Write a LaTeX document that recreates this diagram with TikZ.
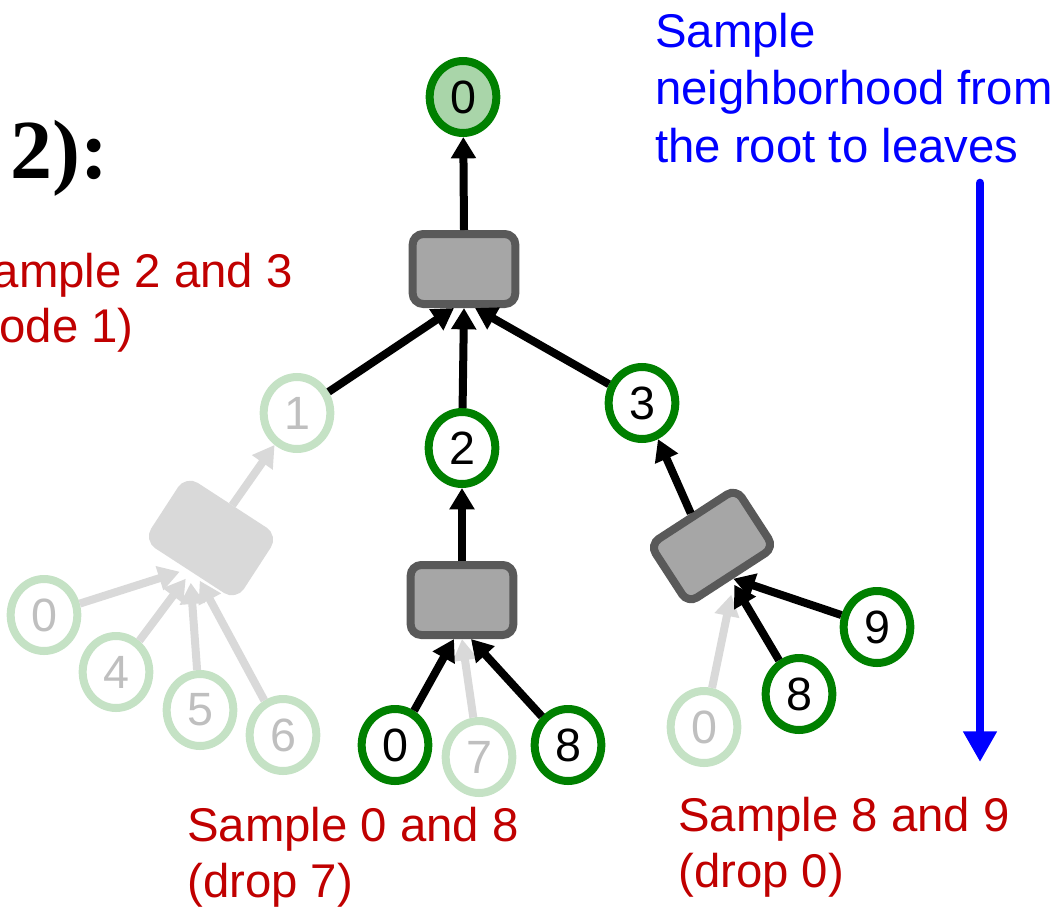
\documentclass[tikz,border=0pt]{standalone}
\usepackage{fontspec}
\setmainfont{Liberation Sans}
\newfontfamily\titlefont{Liberation Serif}
\usetikzlibrary{shapes.geometric,arrows.meta,calc}
\definecolor{nodegreen}{HTML}{008000}
\definecolor{rootfill}{HTML}{A9D5A9}
\definecolor{fadegreen}{HTML}{C5E2C5}
\definecolor{fadetext}{HTML}{BFBFBF}
\definecolor{aggfill}{HTML}{A6A6A6}
\definecolor{aggdraw}{HTML}{595959}
\definecolor{fadegrey}{HTML}{D9D9D9}
\definecolor{labelred}{HTML}{C00000}
\definecolor{flowblue}{HTML}{0000FF}
\begin{document}
\begin{tikzpicture}[x=0.75pt,y=-0.75pt,
  vert/.style={ellipse,draw=nodegreen,line width=6pt,fill=white,
    minimum width=50pt,minimum height=54pt,inner sep=0pt,
    font=\fontsize{35}{42}\selectfont},
  fadevert/.style={vert,draw=fadegreen,text=fadetext},
  rootvert/.style={vert,fill=rootfill},
  agg/.style={rectangle,rounded corners=8pt,draw=aggdraw,fill=aggfill,
    line width=6pt,minimum width=77pt,minimum height=52.5pt,inner sep=0pt},
  fadeagg/.style={agg,draw=fadegrey,fill=fadegrey},
  link/.style={draw=black,line width=6pt,-{Triangle[width=18pt,length=16pt]}},
  fadelink/.style={link,draw=fadegrey},
  redlabel/.style={text=labelred,inner sep=0pt,align=left,
    font=\fontsize{35.5}{41.5}\selectfont},
  bluelabel/.style={text=flowblue,inner sep=0pt,align=left,
    font=\fontsize{35.5}{43}\selectfont}]
\useasboundingbox (0,0) rectangle (1057,907);

% heading fragment
\node[anchor=base west,inner sep=0pt,font=\titlefont\bfseries\fontsize{63}{70}\selectfont] (head) at (10,178) {2):};

% aggregation boxes
\node[agg] (aggtop) at (464,269) {};
\node[agg] (aggmid) at (462,600) {};
\node[agg,rotate=33] (aggright) at (712,546) {};
\node[fadeagg,rotate=-33] (aggleft) at (211,538) {};

% vertices
\node[rootvert] (root) at (463,97) {0};
\node[fadevert] (v1) at (297,413) {1};
\node[vert] (v2) at (462,448) {2};
\node[vert] (v3) at (642,403) {3};
% leaves under node 1 (dropped)
\node[fadevert] (a0) at (44,615) {0};
\node[fadevert] (a4) at (116,672) {4};
\node[fadevert] (a5) at (200,710) {5};
\node[fadevert] (a6) at (283,735) {6};
% leaves under node 2
\node[vert] (b0) at (395,745) {0};
\node[fadevert] (b7) at (479,757) {7};
\node[vert] (b8) at (568,745) {8};
% leaves under node 3
\node[fadevert] (c0) at (704,727) {0};
\node[vert] (c8) at (799,694) {8};
\node[vert] (c9) at (877,627) {9};

% dropped connections
\draw[fadelink] (a0) -- ($(aggleft.south)+(-10,1)$);
\draw[fadelink] (a4) -- ($(aggleft.south)+(-4,8)$);
\draw[fadelink] (a5) -- ($(aggleft.south)+(1,12)$);
\draw[fadelink] (a6) -- ($(aggleft.south)+(10,10)$);
\draw[fadelink] (aggleft.north) -- (v1);
\draw[fadelink] (b7) -- (aggmid.south);
\draw[fadelink] (c0) -- ($(aggright.south)+(-2,16)$);

% sampled connections
\draw[link] (aggtop.north) -- (root);
\draw[link] (v1) -- ($(aggtop.south)+(-10,0)$);
\draw[link] (v2) -- (aggtop.south);
\draw[link] (v3) -- ($(aggtop.south)+(11,0)$);
\draw[link] (aggmid.north) -- (v2);
\draw[link] (b0) -- ($(aggmid.south)+(-8,0)$);
\draw[link] (b8) -- ($(aggmid.south)+(9,0)$);
\draw[link] (aggright.north) -- (v3);
\draw[link] (c9) -- (aggright.south);
\draw[link] (c8) -- ($(aggright.south)+(1,6)$);

% sampling direction
\coordinate (flowtop) at (980,183);
\coordinate (flowend) at (980,762);
\draw[flowblue,line width=6.5pt,line cap=round,
  -{Triangle[width=24pt,length=23pt]}] (flowtop) -- (flowend);

% labels (multi-line nodes are anchored at the baseline of their last line)
\node[bluelabel,anchor=base west] (flowtext) at (655,162)
  {Sample\\neighborhood from\\the root to leaves};
\node[redlabel,anchor=base east] (lab1a) at (293,287) {Sample 2 and 3};
\node[redlabel,anchor=base east] (lab1b) at (134,342) {(drop node 1)};
\node[redlabel,anchor=base west] (lab2) at (187,897) {Sample 0 and 8\\(drop 7)};
\node[redlabel,anchor=base west] (lab3) at (678,887) {Sample 8 and 9\\(drop 0)};
\end{tikzpicture}
\end{document}
